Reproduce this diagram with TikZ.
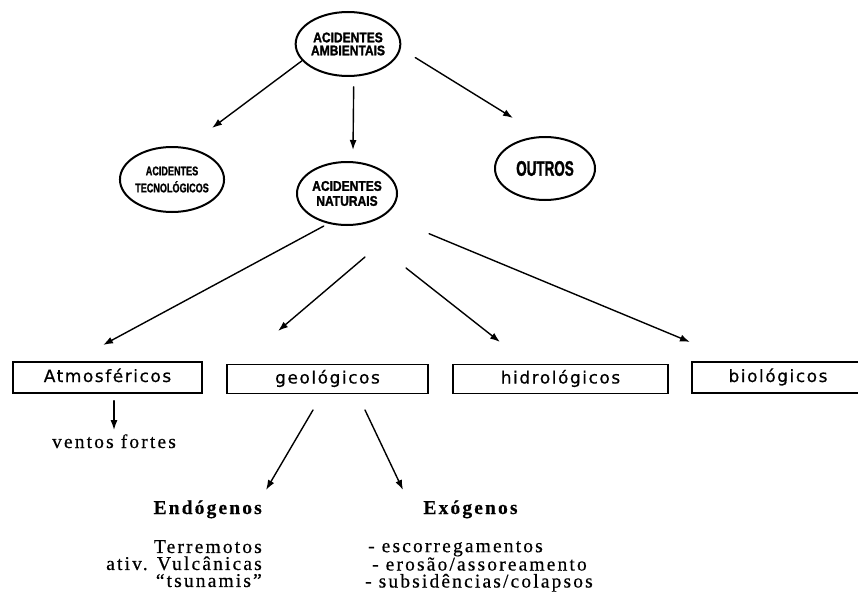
\documentclass[tikz,border=0pt]{standalone}
\usepackage{fontspec}
\setmainfont{Liberation Serif}
\newfontfamily\capsA[FakeStretch=0.86,FakeBold=1.5]{Liberation Sans}
\newfontfamily\capsB[FakeStretch=0.72,FakeBold=1.2]{Liberation Sans}
\newfontfamily\capsC[FakeStretch=0.64,FakeBold=1.5]{Liberation Sans}
\newfontfamily\boxfont[LetterSpace=9,FakeBold=0.6]{DejaVu Sans}
\newfontfamily\listfont[LetterSpace=11,FakeBold=0.5]{Liberation Serif}
\usetikzlibrary{shapes.geometric,arrows.meta}

\begin{document}
\begin{tikzpicture}[x=1pt,y=-1pt,>={Latex[length=10pt,width=7pt]},line cap=round,
    elipse/.style={draw,ellipse,line width=2pt,inner sep=0pt,minimum width=100pt,minimum height=64pt,align=center},
    caixa/.style={draw,line width=1.4pt,minimum height=29pt,inner sep=0pt,text height=12pt,text depth=3pt,
        font=\boxfont\fontsize{17}{18}\selectfont},
    seta/.style={->,line width=1.4pt},
    lista/.style={inner sep=0pt,font=\listfont\fontsize{19.5}{17}\selectfont},
    titulo/.style={inner sep=0pt,font=\listfont\bfseries\fontsize{19.5}{20}\selectfont}]
    \useasboundingbox (0,0) rectangle (858,599);
    % elipses
    \node[elipse,font=\capsA\bfseries\fontsize{14}{13}\selectfont] (amb) at (348,44) {ACIDENTES\\AMBIENTAIS};
    \node[elipse,minimum height=65pt,font=\capsB\bfseries\fontsize{12.6}{17}\selectfont] (tec) at (172,179.5) {ACIDENTES\\TECNOLÓGICOS};
    \node[elipse,minimum height=63pt,font=\capsA\bfseries\fontsize{14}{15}\selectfont] (nat) at (347,193.5) {ACIDENTES\\NATURAIS};
    \node[elipse,minimum height=63pt,font=\capsC\bfseries\fontsize{21}{21}\selectfont] (out) at (545,168.5) {OUTROS};
    % caixas
    \node[caixa,minimum width=189pt,minimum height=31pt] (atm) at (107.5,377.5) {Atmosféricos};
    \node[caixa,minimum width=201pt] (geo) at (327.5,379) {geológicos};
    \node[caixa,minimum width=215pt] (hid) at (560.5,379) {hidrológicos};
    \node[caixa,minimum width=172pt,minimum height=31pt] (bio) at (778,377.5) {biológicos};
    % textos
    \node[lista,anchor=base] (ven) at (114,448) {ventos fortes};
    \node[titulo,anchor=base east] (endo) at (262,514) {Endógenos};
    \node[titulo,anchor=base] (exo) at (470.5,514) {Exógenos};
    \node[lista,anchor=north east,align=right] (endolst) at (262,540) {Terremotos\\ativ. Vulcânicas\\“tsunamis”};
    \node[lista,anchor=north west,align=left] (exolst) at (365,541)
        {\hspace{3pt}- escorregamentos\\\hspace{7pt}- erosão/assoreamento\\- subsidências/colapsos};
    % pontas das setas
    \coordinate (tecin) at (212,128);
    \coordinate (natin) at (353,150);
    \coordinate (outin) at (513,118);
    \coordinate (atmin) at (103,345);
    \coordinate (geoout) at (365,257);
    \coordinate (geoin) at (278,331);
    \coordinate (hidout) at (406,268);
    \coordinate (hidin) at (500,342);
    \coordinate (bioin) at (690,342);
    \coordinate (endout) at (313,410);
    \coordinate (endin) at (266,490);
    \coordinate (exout) at (365,410);
    \coordinate (exin) at (403,490);
    % setas
    \draw[seta] (amb.200) -- (tecin);
    \draw[seta,shorten <=10pt] (amb.-80) -- (natin);
    \draw[seta,shorten <=17pt] (amb.-5) -- (outin);
    \draw[seta,shorten <=5pt] (nat.-122) -- (atmin);
    \draw[seta] (geoout) -- (geoin);
    \draw[seta] (hidout) -- (hidin);
    \draw[seta,shorten <=48pt] (nat.-30) -- (bioin);
    \draw[seta,shorten <=7pt,shorten >=4pt] (atm.south -| ven.north) -- (ven.north);
    \draw[seta] (endout) -- (endin);
    \draw[seta] (exout) -- (exin);
\end{tikzpicture}
\end{document}
